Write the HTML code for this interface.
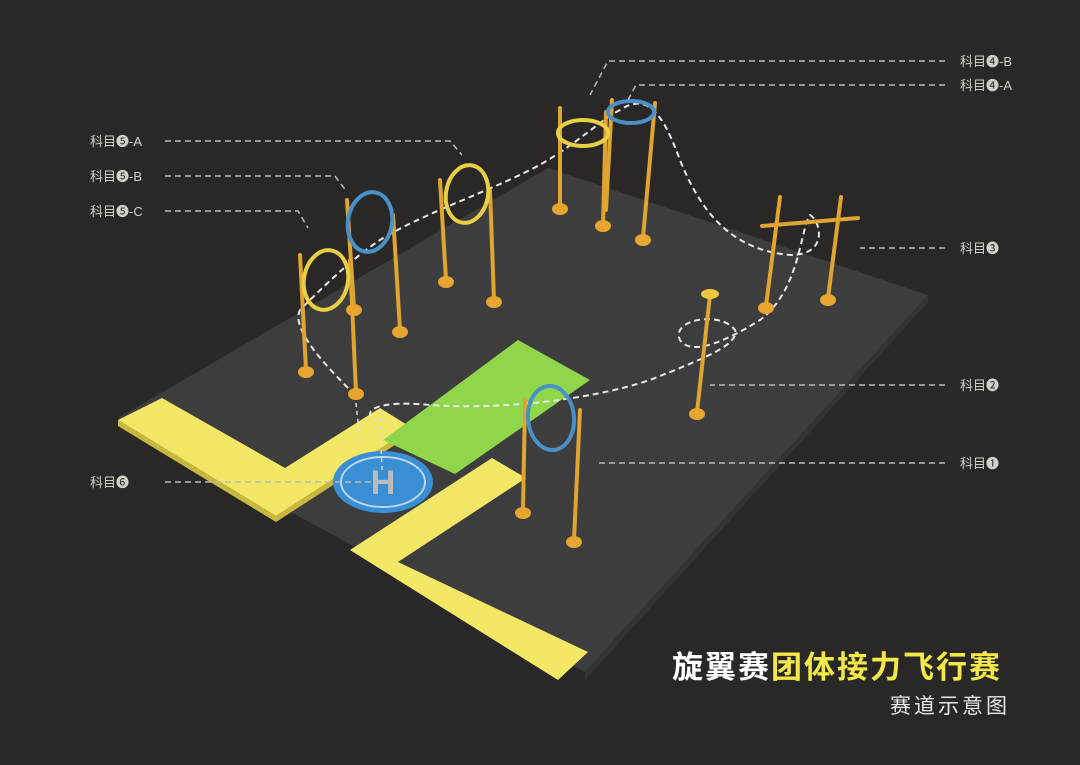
<!DOCTYPE html>
<html><head><meta charset="utf-8"><style>
html,body{margin:0;padding:0;background:#2a2826;}
svg{display:block}
text{font-family:"Liberation Sans","Noto Sans CJK SC",sans-serif;}
</style></head><body>
<svg width="1080" height="765" viewBox="0 0 1080 765" xmlns="http://www.w3.org/2000/svg">
<rect width="1080" height="765" fill="#2a2826"/>
<polygon points="548,168 928,295 585,672 118,418" fill="#3d3d3d"/>
<polygon points="928,295 585,672 585,680 928,302" fill="#333"/>
<polygon points="118,420 162,398 285,468 380,408 412,428 276,516" fill="#f2e866"/>
<polygon points="350,550 492,458 526,478 398,562 588,652 558,680" fill="#f2e866"/>
<polygon points="276,516 412,428 412,434 276,522 118,426 118,420" fill="#c9b83e"/>
<polygon points="383,440 518,340 590,380 455,474" fill="#8fd64a"/>
<ellipse cx="383" cy="482" rx="50" ry="31" fill="#3a8ed4"/>
<ellipse cx="383" cy="482" rx="42" ry="25" fill="none" stroke="#bcd8f0" stroke-width="2"/>
<text x="383" y="494" text-anchor="middle" font-size="34" font-weight="bold" fill="#bbb">H</text>
<path d="M355,395 C330,370 290,330 300,310 C320,290 350,260 380,240 C420,215 480,195 530,170 C570,150 600,120 620,110 C650,90 665,120 680,160 C700,210 730,250 790,255 C830,255 820,220 810,215 C800,230 800,290 760,320 C720,345 690,355 680,340 C670,320 720,310 735,330 C740,345 700,360 650,380 C590,400 500,410 430,405 C380,400 360,410 375,420" fill="none" stroke="#e8e8e8" stroke-width="2" stroke-dasharray="6,4"/>
<path d="M355,395 L360,440 M380,410 L382,470" stroke="#ddd" stroke-width="1.5" stroke-dasharray="4,4" fill="none"/>
<g stroke="#e0a530" stroke-width="4" stroke-linecap="round" fill="none">
<line x1="300" y1="255" x2="306" y2="370"/><line x1="350" y1="260" x2="356" y2="392"/>
<line x1="347" y1="200" x2="354" y2="308"/><line x1="393" y1="215" x2="400" y2="330"/>
<line x1="440" y1="180" x2="446" y2="280"/><line x1="490" y1="190" x2="494" y2="300"/>
<line x1="560" y1="108" x2="560" y2="207"/><line x1="606" y1="112" x2="603" y2="225"/>
<line x1="612" y1="100" x2="606" y2="210"/><line x1="655" y1="103" x2="643" y2="238"/>
<line x1="780" y1="197" x2="766" y2="306"/><line x1="841" y1="197" x2="828" y2="298"/>
<line x1="762" y1="226" x2="858" y2="218"/>
<line x1="710" y1="295" x2="697" y2="412"/>
<line x1="525" y1="400" x2="523" y2="510"/><line x1="580" y1="410" x2="574" y2="540"/>
</g>
<g fill="#e8a530">
<ellipse cx="306" cy="372" rx="8" ry="6"/><ellipse cx="356" cy="394" rx="8" ry="6"/>
<ellipse cx="354" cy="310" rx="8" ry="6"/><ellipse cx="400" cy="332" rx="8" ry="6"/>
<ellipse cx="446" cy="282" rx="8" ry="6"/><ellipse cx="494" cy="302" rx="8" ry="6"/>
<ellipse cx="560" cy="209" rx="8" ry="6"/><ellipse cx="603" cy="226" rx="8" ry="6"/>
<ellipse cx="643" cy="240" rx="8" ry="6"/><ellipse cx="766" cy="308" rx="8" ry="6"/>
<ellipse cx="828" cy="300" rx="8" ry="6"/><ellipse cx="697" cy="414" rx="8" ry="6"/>
<ellipse cx="523" cy="513" rx="8" ry="6"/><ellipse cx="574" cy="542" rx="8" ry="6"/>
<ellipse cx="710" cy="294" rx="9" ry="5" fill="#f0c840"/>
</g>
<g fill="none" stroke-width="4">
<ellipse cx="326" cy="280" rx="22" ry="30" stroke="#e8cf45" transform="rotate(10 326 280)"/>
<ellipse cx="370" cy="222" rx="22" ry="30" stroke="#4a90c8" transform="rotate(10 370 222)"/>
<ellipse cx="467" cy="194" rx="21" ry="29" stroke="#e8cf45" transform="rotate(10 467 194)"/>
<ellipse cx="583" cy="133" rx="25" ry="13" stroke="#e8cf45"/>
<ellipse cx="631" cy="112" rx="23" ry="11" stroke="#4a90c8"/>
<ellipse cx="551" cy="418" rx="23" ry="32" stroke="#4a90c8" transform="rotate(-5 551 418)"/>
</g>
<g stroke="#bdbab3" stroke-width="1.5" stroke-dasharray="6,4" fill="none">
<path d="M165,141 L450,141 L462,155"/>
<path d="M165,176 L335,176 L347,192"/>
<path d="M165,211 L298,211 L308,228"/>
<path d="M945,61 L608,61 L590,95"/>
<path d="M945,85 L636,85 L628,100"/>
<path d="M945,248 L860,248"/>
<path d="M945,385 L710,385"/>
<path d="M945,463 L595,463"/>
<path d="M165,482 L378,482"/>
</g>
<g font-size="13" fill="#d2cfc8">
<text x="90" y="146">科目❺-A</text>
<text x="90" y="181">科目❺-B</text>
<text x="90" y="216">科目❺-C</text>
<text x="90" y="487">科目❻</text>
<text x="960" y="66">科目❹-B</text>
<text x="960" y="90">科目❹-A</text>
<text x="960" y="253">科目❸</text>
<text x="960" y="390">科目❷</text>
<text x="960" y="468">科目❶</text>
</g>
<text x="672" y="678" font-size="31" font-weight="bold" fill="#fff" letter-spacing="2" font-family="'Noto Sans CJK SC',sans-serif">旋翼赛<tspan fill="#f2e84a">团体接力飞行赛</tspan></text>
<text x="1010" y="713" font-size="21" fill="#e8e8e8" text-anchor="end" font-family="'Noto Sans CJK SC',sans-serif" letter-spacing="3">赛道示意图</text>
</svg>
</body></html>
